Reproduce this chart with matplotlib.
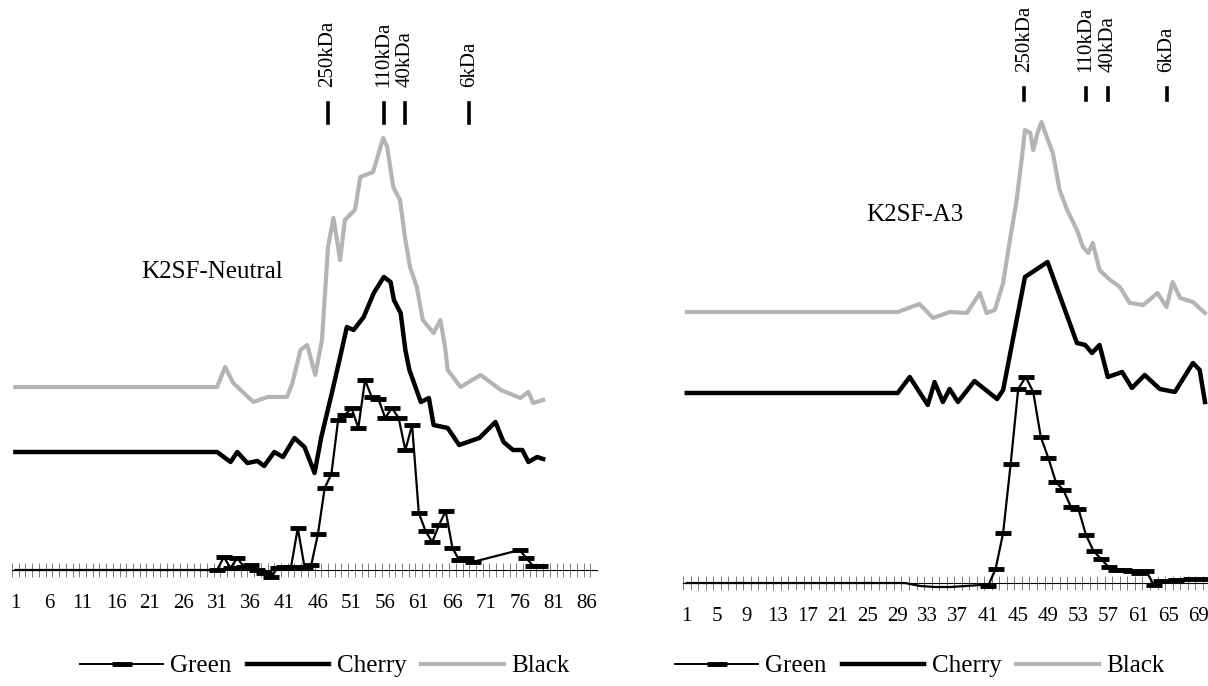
import matplotlib
matplotlib.use('Agg')
import matplotlib.pyplot as plt
from matplotlib.lines import Line2D

plt.rcParams['font.family'] = ['Liberation Serif', 'DejaVu Serif']

W, H = 1208, 686

# ---- K2SF-Neutral (left panel): fraction number vs. signal (arbitrary units)
neutral_green_x = [1, 30, 31, 32, 33, 34, 35, 36, 37, 38, 39, 40, 41, 42, 43, 44, 45,
                   46, 47, 48, 49, 50, 51, 52, 53, 54, 55, 56, 57, 58, 59, 60, 61, 62,
                   63, 64, 65, 66, 67, 68, 69, 76, 77, 78, 79]
neutral_green_y = [0, 0, 0, 13, 2, 12, 3, 5, 0, -3, -7, 2, 3, 3, 42, 3, 5,
                   36, 82, 96, 150, 155, 162, 142, 190, 173, 171, 152, 162, 152, 120, 145, 57, 39,
                   28, 45, 59, 22, 10, 12, 8, 20, 12, 4, 4]

neutral_cherry_x = [1, 31, 33, 34, 35.5, 37, 38, 39.5, 40.8, 42.5, 44, 45.5, 46.5, 48, 49.2,
                    50.3, 51.3, 52.8, 54.3, 55.8, 56.8, 57.3, 58.3, 59, 59.6, 61.3, 62.5, 63.2,
                    65.3, 67, 70, 72.4, 73.6, 75, 76.4, 77.3, 78.6, 79.5]
neutral_cherry_y = [118, 118, 108, 118, 107, 109, 104, 118, 113, 132, 123, 97, 133, 175, 210,
                    243, 240, 253, 277, 293, 288, 270, 257, 220, 200, 168, 172, 145,
                    142, 125, 132, 148, 128, 120, 120, 108, 113, 111]

neutral_black_x = [1, 31, 32.2, 33.4, 36.4, 38.5, 41.4, 42.2, 43.4, 44.4, 45.6, 46.6, 47.5,
                   48.3, 49.3, 50, 51.5, 52.3, 54.2, 55.7, 56.3, 57.2, 58.2, 59, 59.7, 60.7,
                   61.6, 63.2, 64.2, 64.9, 65.3, 67.2, 70.2, 73.2, 76.1, 77.3, 78, 79.5]
neutral_black_y = [183, 183, 203, 187, 168, 173, 173, 187, 220, 225, 195, 230, 323,
                   352, 310, 350, 360, 393, 398, 432, 423, 383, 370, 330, 303, 283,
                   250, 237, 250, 223, 200, 183, 195, 180, 172, 178, 167, 170]

neutral_ticks = [1, 6, 11, 16, 21, 26, 31, 36, 41, 46, 51, 56, 61, 66, 71, 76, 81, 86]
neutral_markers = [47.5, 55.8, 58.9, 68.5]

# ---- K2SF-A3 (right panel)
a3_green_x = [1, 30, 32, 34, 36, 38, 40, 41, 42, 43, 44, 45, 46, 47, 48, 49, 50, 51, 52,
              53, 54, 55, 56, 57, 58, 59, 60, 61, 62, 63, 64, 66, 68, 70]
a3_green_y = [0, 0, -3, -4, -4, -3, -2, -3, 14, 50, 119, 194, 206, 191, 146, 125, 101, 93, 76,
              74, 48, 32, 24, 16, 13, 13, 12, 10, 12, -2, 2, 3, 4, 4]

a3_cherry_x = [1, 29, 30.6, 33, 33.9, 35, 35.9, 37, 39.2, 42.2, 43, 45.9, 48.9, 50.1,
               52.8, 53.9, 54.8, 55.8, 56.9, 58.8, 60.1, 61.8, 63.8, 65.8, 68.2, 69.1, 69.8]
a3_cherry_y = [190, 190, 206, 178, 201, 181, 194, 181, 202, 184, 193, 306, 321, 296,
               240, 238, 230, 238, 206, 211, 195, 208, 194, 191, 220, 213, 181]

a3_black_x = [1, 29, 31.9, 33.7, 35.9, 38.2, 39.9, 40.8, 41.9, 43, 43.9, 44.8, 45.5, 45.9,
              46.6, 47, 47.6, 48.1, 48.8, 49.6, 50.5, 51.5, 52.8, 53.6, 54.3, 54.9, 55.8,
              57.2, 58.5, 59.8, 61.6, 63.5, 64.7, 65.5, 66.5, 68.2, 69.8]
a3_black_y = [271, 271, 279, 265, 271, 270, 290, 270, 273, 300, 343, 383, 426, 453,
              450, 433, 451, 461, 446, 430, 393, 373, 353, 336, 330, 340, 313,
              303, 296, 280, 278, 290, 276, 301, 285, 281, 270]

a3_ticks = [1, 5, 9, 13, 17, 21, 25, 29, 33, 37, 41, 45, 49, 53, 57, 61, 65, 69]
a3_markers = [45.8, 54.0, 56.9, 64.7]

marker_labels = ['250kDa', '110kDa', '40kDa', '6kDa']
series_names = ['Green', 'Cherry', 'Black']

fig = plt.figure(figsize=(W / 100, H / 100), dpi=100)


def add_panel(px_left, px_right, px_axis, x_right, gx, gy, gmark, cx, cy, bx, by,
              ticks, markers, mark_lo, mark_hi, title, title_xy, legend_x):
    # axes placed in pixel terms, y in pixels above the baseline
    ax = fig.add_axes([px_left / W, (H - px_axis - 20) / H,
                       (px_right - px_left) / W, (px_axis + 20) / H])
    ax.set_xlim(0.5, x_right)
    ax.set_ylim(-20, px_axis)
    for s in ['left', 'right', 'top']:
        ax.spines[s].set_visible(False)
    ax.spines['bottom'].set_position(('data', 0))
    ax.spines['bottom'].set_linewidth(0.8)
    ax.set_yticks([])

    ax.set_xticks(ticks)
    ax.set_xticklabels([str(t) for t in ticks], fontsize=15)
    ax.tick_params(axis='x', which='major', length=0, pad=17)
    ax.set_xticks([i + 0.5 for i in range(0, int(x_right))], minor=True)
    ax.tick_params(axis='x', which='minor', length=10, width=0.6,
                   direction='inout', color='#666666')

    ax.plot(bx, by, color='#b4b4b4', lw=3, solid_joinstyle='round', clip_on=False)
    ax.plot(cx, cy, color='black', lw=3.2, solid_joinstyle='round', clip_on=False)
    ax.plot(gx, gy, color='black', lw=1.6, marker='_', markersize=11,
            markeredgewidth=3.5, markevery=gmark, clip_on=False)

    for m, lab in zip(markers, marker_labels):
        ax.plot([m, m], [mark_lo, mark_hi], color='black', lw=2.6)
        ax.text(m, mark_hi + 16, lab, rotation=90, ha='center', va='bottom', fontsize=15)

    ax.text(title_xy[0], title_xy[1], title, ha='center', va='center', fontsize=18)

    handles = [Line2D([0], [0], color='black', lw=1.4, marker='_', markersize=14,
                      markeredgewidth=3.5),
               Line2D([0], [0], color='black', lw=3.2),
               Line2D([0], [0], color='#b4b4b4', lw=3)]
    fig.legend(handles, series_names, loc='center', ncol=3, frameon=False,
               fontsize=18, handlelength=3.3, handletextpad=0.3, columnspacing=0.6,
               bbox_to_anchor=(legend_x / W, 20 / H))
    return ax


add_panel(12, 597, 570, 87.5, neutral_green_x, neutral_green_y, slice(2, None),
          neutral_cherry_x, neutral_cherry_y, neutral_black_x, neutral_black_y,
          neutral_ticks, neutral_markers, 447, 467, 'K2SF-Neutral', (30.2, 298), 325)

add_panel(683, 1208, 583, 70.2, a3_green_x, a3_green_y, slice(7, None),
          a3_cherry_x, a3_cherry_y, a3_black_x, a3_black_y,
          a3_ticks, a3_markers, 483, 495, 'K2SF-A3', (31.3, 368), 920)

fig.savefig('out.png', dpi=100, facecolor='white')
